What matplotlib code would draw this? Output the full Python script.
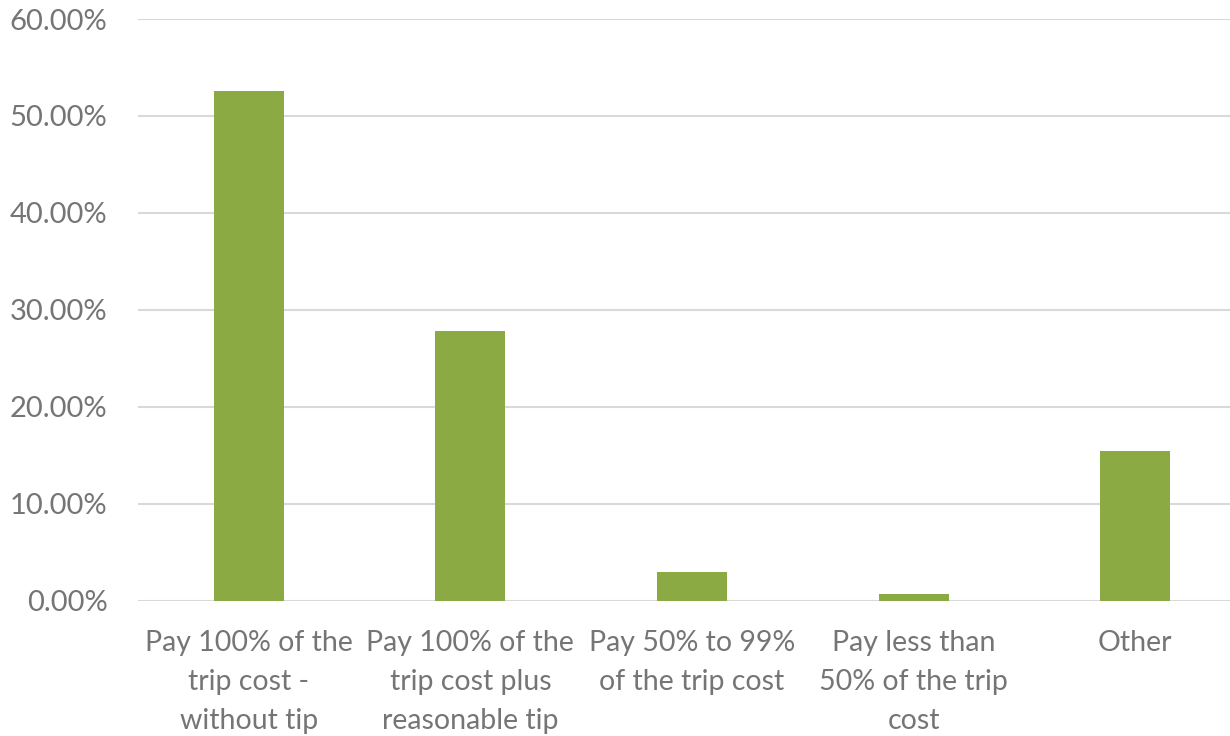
import numpy as np
import matplotlib.pyplot as plt
from matplotlib.ticker import FuncFormatter

categories = ["Pay 100% of the\ntrip cost -\nwithout tip",
              "Pay 100% of the\ntrip cost plus\nreasonable tip",
              "Pay 50% to 99%\nof the trip cost",
              "Pay less than\n50% of the trip\ncost",
              "Other"]
values = [52.6, 27.8, 3.0, 0.7, 15.4]
yticks = [0, 10, 20, 30, 40, 50, 60]

plt.rcParams['font.family'] = ['Lato', 'DejaVu Sans']
fig = plt.figure(figsize=(12.3, 7.36), dpi=100)
ax = fig.add_axes([138 / 1230, 1 - 600.7 / 736, 1108 / 1230, 581.7 / 736])

x = np.arange(len(categories))
ax.bar(x, values, width=0.316, color='#8BAA44', zorder=3)

ax.set_xlim(-0.5, 4.5)
ax.set_ylim(0, 60)
ax.set_yticks(yticks)
ax.yaxis.set_major_formatter(FuncFormatter(lambda v, p: "%.2f%%" % v))
ax.grid(axis='y', color='#d9d9d9', linewidth=1.5, zorder=0)
for s in ax.spines.values():
    s.set_visible(False)
ax.set_xticks(x)
ax.set_xticklabels(categories, linespacing=1.62)
ax.tick_params(axis='both', length=0, colors='#757575')
ax.tick_params(axis='x', pad=21, labelsize=20.5)
ax.tick_params(axis='y', pad=22, labelsize=21)

fig.savefig("out.png", dpi=100)
